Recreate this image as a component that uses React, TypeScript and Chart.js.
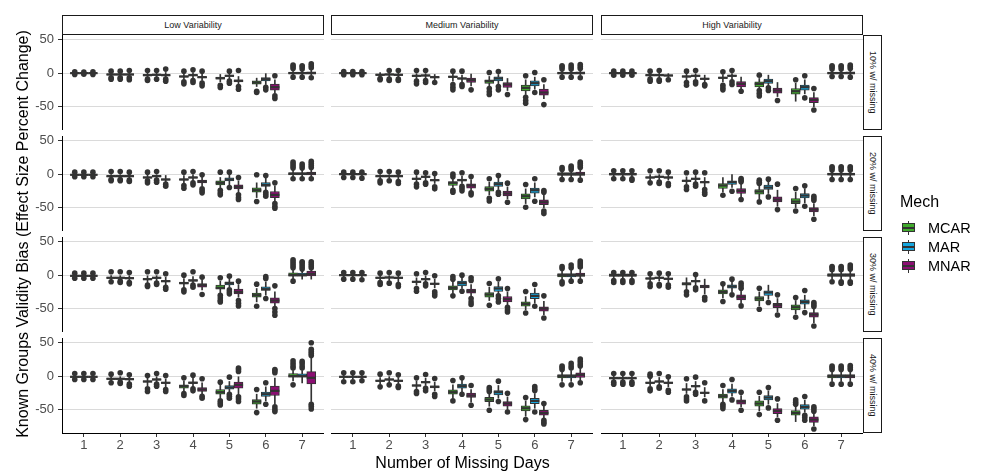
import React, { useEffect, useRef } from 'react';
import { Chart, registerables } from 'chart.js';

Chart.register(...registerables);

// Each box: [whiskerLow, q1, median, q3, whiskerHigh, ...outliers]
type Box = number[];

const DAYS = [1, 2, 3, 4, 5, 6, 7];
const MECHS = ['MCAR', 'MAR', 'MNAR'];
const MECH_COLORS = ['#41AB2D', '#16A6DE', '#8B0E72'];
const VARIABILITY = ['Low Variability', 'Medium Variability', 'High Variability'];
const MISSING = ['10% w/ missing', '20% w/ missing', '30% w/ missing', '40% w/ missing'];
const Y_TICKS = [-50, 0, 50];
const Y_MIN = -85;
const Y_MAX = 57;
const X_TITLE = 'Number of Missing Days';
const Y_TITLE = 'Known Groups Validity Bias (Effect Size Percent Change)';
const LEGEND_TITLE = 'Mech';

// ---- 10% missing ----
const LOW10_MCAR: Box[] = [
  [-1.5, -0.5, 0, 0.5, 1.5, 2, -2], [-5, -3, -2, -1, 1, 3, -7, -9], [-6, -4, -3, -2, 1, 4, -9, -11],
  [-9, -6, -5, -4, -1, 3, -13, -16], [-13, -9, -7.5, -6, -2, -18, -21.5], [-20, -16.5, -14, -11.5, -7.5, -27, -29],
  [-3, -1, 0, 1.5, 4, 7, 10, 12, -6],
];
const LOW10_MAR: Box[] = [
  [-1, -0.5, 0, 0.5, 1, 1.5, -1.5], [-5, -3, -2, -1, 1, 3, -7, -9], [-6, -3.5, -2.5, -1.5, 1, 4, -9],
  [-7, -4, -3, -2, 1, 5, -11, -14], [-9, -5, -4, -3, 1, 3, -12, -15], [-17, -11.5, -9, -6.5, 0, -21, -25],
  [-3, -1, 0, 1.5, 4, 6, 9, 11, -6],
];
const LOW10_MNAR: Box[] = [
  [-1.5, -0.5, 0, 0.5, 1.5, 2, -2], [-5, -3, -2, -1, 1, 4, -7, -10], [-7, -4, -3, -2, 1, 6, -9, -12],
  [-11, -7, -6, -5, -1, 3, -15, -19], [-17, -13, -11.5, -10, -5, 4, -20, -24], [-30, -25.5, -21, -16.5, -10, -4, -34, -38],
  [-3, -1, 0, 2, 5, 8, 11, 14, -7],
];
const MED10_MCAR: Box[] = [
  [-1.5, -0.5, 0, 0.5, 1.5, 2.5, -2.5], [-5, -3.5, -2.5, -1.5, 1, -8, -10], [-9, -5, -4, -3, 0, 4, -12, -16],
  [-12, -6.5, -5.5, -4.5, -1, 3, -17, -21, -25], [-20, -15.5, -12, -10, -5, 1, -23, -28, -32], [-32, -26.5, -22, -18, -10, -4, -36, -41, -45],
  [-3, -1, 0, 1.5, 4, 6, 9, 11, -6],
];
const MED10_MAR: Box[] = [
  [-1.5, -0.5, 0, 0.5, 1.5, 2.5, -2.5], [-6, -3, -2, -1, 2, 4, -9, -11], [-8, -4.5, -3.5, -2.5, 0, 4, -11, -14],
  [-13, -9, -8, -7, -3, 3, -17, -20], [-16, -11.5, -8, -5.5, -2, 2.5, -20, -25], [-24, -19, -15, -11.5, -6, 1, -29],
  [-3, -1, 0, 1.5, 4, 6, 9, 12, -6],
];
const MED10_MNAR: Box[] = [
  [-1.5, -0.5, 0, 0.5, 1.5, 2.5, -2.5], [-6, -3.5, -2.5, -1.5, 2, 4, -9, -11], [-11, -7, -6, -5, -2, -14],
  [-19, -14, -10.5, -7.5, -1.5, -25], [-26, -21.5, -17, -14, -8, -32], [-38, -33, -29, -24, -17, -10, -47],
  [-3, -1, 0, 2, 5, 7, 10, 13, -7],
];
const HIGH10_MCAR: Box[] = [
  [-2, -1, 0, 1, 2, 3, -3], [-7, -4, -3, -2, 1, 3, -9, -12], [-10, -6, -5, -4, -1, 3, -14, -18],
  [-13, -8, -7, -6, -2, 2, -18, -22, -25], [-23, -20.5, -16, -13, -8, -3, -26, -30, -34], [-42, -31.5, -27, -23, -15, -10],
  [-3, -1, 0, 1.5, 4, 6, 9, 11, -5],
];
const HIGH10_MAR: Box[] = [
  [-2, -1, 0, 1, 2, 3, -3], [-7, -4, -3, -2, 1, 4, -10, -12], [-9, -5, -4, -3, 0, 4, -13, -16],
  [-10, -5, -4, -3, 0, 4, -13, -17], [-19, -15.5, -12, -9, -3, -22, -26], [-31, -25.5, -21, -18, -10, -4, -37],
  [-3, -1, 0, 1.5, 4, 6, 9, 11, -5],
];
const HIGH10_MNAR: Box[] = [
  [-2, -1, 0, 1, 2, 3, -3], [-7, -4.5, -3.5, -2.5, 0, -10], [-13, -9.5, -8.5, -7.5, -3, -17, -19],
  [-24, -20.5, -16, -12.5, -6, -27], [-35, -30, -26, -22.5, -14, -41], [-50, -44, -40, -36.5, -29, -23, -55],
  [-3, -1, 0, 2, 4, 7, 10, 12, -6],
];

// ---- 20% missing ----
const LOW20_MCAR: Box[] = [
  [-2.5, -1.5, -1, -0.5, 1, 3, -4], [-6, -4, -3, -2, 0, 4, -8, -10], [-9, -6, -5, -4, -1, 3, -10, -13],
  [-13, -9, -8, -7, -2, 3, -17, -21], [-22, -16, -13, -10, -5, 3, -24, -28, -31], [-35, -27, -24, -20.5, -13, -1, -41],
  [-5, -1, 0.5, 2.5, 6, 9, 12, 15, 18, -7],
];
const LOW20_MAR: Box[] = [
  [-2.5, -1.5, -1, -0.5, 1, 3, -4], [-6, -4, -3, -2, 0, 4, -8, -10], [-7, -4, -3, -2, 0, 4, -9, -12],
  [-11, -6, -5, -4, 0, 4, -13, -16], [-16, -10, -8, -5.5, -1, 3, -20], [-24, -18.5, -16, -12.5, -6, -2, -27, -30, -33],
  [-5, -1, 0.5, 2.5, 6, 9, 12, 15, -7],
];
const LOW20_MNAR: Box[] = [
  [-2.5, -1.5, -1, -0.5, 1, 3, -4], [-7, -4, -3, -2, 0, 3, -9, -11], [-12, -9, -8, -7, -2, -15, -18],
  [-18, -13, -11, -9, -4, -1, -22, -25, -28], [-28, -22, -19, -16, -10, -5, -31, -35, -38], [-41, -35, -31, -26, -18, -13, -44, -48, -51],
  [-5, -1, 1, 3, 7, 10, 13, 16, 19, -7],
];
const MED20_MCAR: Box[] = [
  [-3, -1, 0, 1, 2, 3, -5], [-7, -4, -3, -2, 0, 4, -10, -13], [-12, -8, -7, -6, -2, 3, -15, -19],
  [-20, -17, -13, -11, -7, 0, -4, -24, -27], [-31, -25.5, -22, -18.5, -12, -7, -36, -40], [-44, -37, -33, -29.5, -22, -15.5, -49.5],
  [-5, -2, 0, 2.5, 5, 7, 10, -8],
];
const MED20_MAR: Box[] = [
  [-3, -1, 0, 1, 2, 3, -5], [-6, -4, -3, -2, 0, 4, -10], [-9, -5, -4, -3, 0, 2, -13, -15],
  [-14, -10, -9, -7.5, -3, 2, -18, -21, -25], [-23, -18.5, -15, -12, -6, -2, -27, -30], [-34, -28.5, -24, -21, -13, -7, -40.5],
  [-5, -2, 0, 2.5, 5, 7, 10, 12, -8],
];
const MED20_MNAR: Box[] = [
  [-4, -1, 0, 1, 2, 3, -6], [-8, -4, -3, -2, 0, 3, -11, -14], [-14, -10, -9, -8, -3, 1, -19, -22],
  [-25, -21, -17, -14.5, -8, -3.5, -28, -31], [-37, -32.5, -29, -25.5, -19, -13.5, -42], [-50, -45.5, -42, -38.5, -31, -24.5, -27, -55, -59],
  [-6, -2, 0, 3, 7, 10, 13, 16, 18, -9],
];
const HIGH20_MCAR: Box[] = [
  [-4, -1.5, 0, 1.5, 3, 5, -7], [-9, -6, -5, -4, 0, 5, -13], [-15, -11, -10, -9, -4, 2, -19, -23],
  [-27, -21.5, -17, -14, -5, -31.5], [-37, -30, -26, -23, -16, -9, -12, -14, -41.5], [-50, -44, -41, -36.5, -27, -21.5, -55],
  [-5, -1.5, 0, 1.5, 4, 6, 9, 11, -8],
];
const HIGH20_MAR: Box[] = [
  [-4, -1.5, 0, 1.5, 3, 5, -7], [-8, -5, -4, -3, 0, 5, -12, -14], [-12, -8, -7, -6, -2, 3, -15, -18],
  [-20, -15.5, -12, -10, 0, -25.5], [-29, -23, -20, -16.5, -10, -7.5, -34], [-43, -35.5, -32, -29, -22, -17.5, -48],
  [-5, -1.5, 0, 1.5, 4, 6, 9, 11, -8],
];
const HIGH20_MNAR: Box[] = [
  [-4, -1.5, 0, 1.5, 3, 5, -7, -9], [-9, -6, -5, -4, -1, 3, -14, -17], [-19, -13, -12, -11, -5, 2, -23, -27, -30],
  [-34, -29, -25, -21.5, -14, -6.5, -9, -11.5, -38], [-48, -41.5, -38, -34, -24, -15, -53], [-62, -56.5, -53, -50, -44, -33, -36, -39, -67.5],
  [-5, -1.5, 0, 1.5, 4, 6, 9, 11, -8],
];

// ---- 30% missing ----
const LOW30_MCAR: Box[] = [
  [-3, -2, -1, 0, 1.5, 3, -4.5], [-8, -5, -4, -3, 0, 5, -10], [-12, -7, -6, -5, -1, 5, -15, -17],
  [-19, -13, -12, -10.5, -5, 0, -22, -25], [-27, -21, -19, -15, -9, -4, -30, -34, -38, -40], [-40, -33, -30, -27, -20, -13.5, -46.5],
  [-7, -1.5, 0, 3.5, 8, 11, 14, 17, 20, 23, -9],
];
const LOW30_MAR: Box[] = [
  [-3, -2, -1, 0, 1.5, 3, -4.5], [-8, -5, -4, -3, 0, 5, -9, -11], [-9, -5, -4, -3, 0, 5, -12, -14],
  [-13, -9, -8, -6.5, -2, 5, -15, -18], [-18, -14.5, -12, -10, -5, -1.5, -22, -25, -28], [-30, -23, -21, -17.5, -10, -2, -5, -35],
  [-6, -1.5, 0, 3, 7, 9, 12, 15, 18, 20],
];
const LOW30_MNAR: Box[] = [
  [-3, -2, -1, 0, 1.5, 3, -4.5], [-9, -5.5, -4.5, -3.5, 0, 4, -11, -13], [-15, -10, -9, -8, -3, 2, -18, -21],
  [-22, -18, -15, -12.5, -7, -3, -29], [-33, -28, -25, -21, -14, -9, -38, -42, -46], [-48, -42, -38, -34, -25, -16, -50, -55, -60],
  [-6, -1, 2, 6, 9, 11, 14, 17, 20],
];
const MED30_MCAR: Box[] = [
  [-3, -1, 0, 1, 2, 4, -6], [-9, -5, -4, -3, 0, 3, -11, -14], [-15, -11, -10, -9, -4, 2, -20, -24],
  [-27, -22, -19, -16, -10, -2, -6, -31], [-38, -33, -29, -26, -18, -12.5, -45], [-52, -46.5, -43, -40, -32, -24.5, -56.5],
  [-7, -2.5, 0, 2.5, 7, 10, 13, -10, -13],
];
const MED30_MAR: Box[] = [
  [-3, -1, 0, 1, 2, 4, -6], [-8, -4.5, -3.5, -2.5, 0, 4, -12], [-11, -7, -6, -5, -1, 4, -13, -16],
  [-20, -16, -12, -9, -4, 0, -24], [-29, -24.5, -20, -17, -10, -5.5, -31, -35, -40], [-42, -35, -31, -27, -20, -14, -46.5],
  [-6, -2.5, 0, 2.5, 7, 11, 15, -9],
];
const MED30_MNAR: Box[] = [
  [-3, -1, 0, 1, 2, 4, -7], [-10, -5, -4, -3, 0, 3, -14, -17], [-19, -14, -13, -12, -6, -1, -25, -28, -31],
  [-32, -27, -24, -21, -14, -4, -8, -35, -40, -44], [-45, -40, -36, -32, -25, -20, -48, -52, -55], [-59, -54, -50, -47.5, -39, -31, -64],
  [-6, -2, 0, 3, 8, 12, 15, 18, 21, -9],
];
const HIGH30_MCAR: Box[] = [
  [-5, -2, 0, 2, 3, 4, -8, -11], [-10, -6, -5, -4, 0, 2, -13, -17], [-21, -15, -13, -11, -4, -25, -29.5],
  [-34, -28, -25, -22, -16, -13, -39.5], [-46, -38.5, -35, -32, -25, -19.5, -51], [-58, -52, -48, -44.5, -38, -33.5, -63],
  [-6, -2, 0, 2.5, 5, 8, 11, 13, -10],
];
const HIGH30_MAR: Box[] = [
  [-5, -2, 0, 2, 3, 4, -8, -11], [-9, -5, -4, -3, 0, 3, -14, -16], [-16, -10, -9, -8, -1, 1, -19, -22],
  [-25, -19.5, -17, -14.5, -9, -6, -29.5], [-36, -30.5, -26, -23.5, -15, -41], [-50, -43.5, -40, -37, -30, -23, -56],
  [-6, -2, 0, 2.5, 5, 8, 11, 13, -10, -12],
];
const HIGH30_MNAR: Box[] = [
  [-5, -2, 0, 2, 3, 4, -8, -11], [-11, -6.5, -5.5, -4.5, -1, 2, -15, -18], [-28, -19, -17, -15, -6, -33, -37],
  [-42, -37, -33, -29.5, -24, -12, -16, -19.5, -46], [-55, -48.5, -45, -42, -35, -29.5, -59.5], [-71, -63, -59, -56, -50, -41, -44, -47, -76],
  [-6, -2, 0, 2.5, 6, 9, 12, 15, -10, -12],
];

// ---- 40% missing ----
const LOW40_MCAR: Box[] = [
  [-3, -2, -1, 0, 2, 4, -5], [-8, -5, -4, -3, 0, 3, -10], [-15, -9, -8, -7, -3, 1, -19, -23],
  [-22, -18, -15, -13, -7, -2.5, -26, -29], [-33, -27, -24, -20, -13, -9, -37, -40, -43], [-48, -42, -38, -35, -27, -20, -54.5],
  [-7, -1.5, 0, 4, 8, 12, 15, 19, 23, -13],
];
const LOW40_MAR: Box[] = [
  [-3, -2, -1, 0, 2, 4, -5], [-7, -5, -4, -3, 0, 5, -9, -11], [-10, -6, -5, -4, 0, 4, -12, -15],
  [-16, -11, -10, -8.5, -3, 1.5, -19, -22], [-24, -19.5, -17, -14, -8, -1.5, -27, -30, -33], [-37, -30.5, -27, -24, -16, -10, -42],
  [-10, -1.5, 0, 3.5, 8, 12, 15, 19, 22],
];
const LOW40_MNAR: Box[] = [
  [-3, -2, -1, 0, 2, 4, -5], [-10, -5.5, -4.5, -3.5, 0, 2, -12, -15], [-16, -11, -10, -9, -4, 1, -20, -23],
  [-27, -23, -20, -17, -10, -4, -30, -33], [-28, -18, -13, -9, -1, 7, 10, 12, -31, -34, -38], [-42, -29, -22, -15, -3, 5, 8, 10, -46, -50, -53],
  [-38, -11.6, -2.5, 6.7, 28, 31, 34, 37, 40, 50, -42, -45, -49],
];
const MED40_MCAR: Box[] = [
  [-4, -2, -1, 0, 2, 5, -8.5], [-12, -8, -7, -6, -2, 3, -16], [-20, -15, -14, -13, -7, -2.5, -23, -26],
  [-33, -27, -24, -20.5, -13, -6.5, -37], [-45, -38, -35, -31.5, -25, -17, -20, -23, -51], [-60, -52, -48, -44.5, -37, -32, -65],
  [-8, -2.5, 0, 2.5, 7, 10, 13, 15, -13],
];
const MED40_MAR: Box[] = [
  [-4, -2, -1, 0, 2, 5, -8.5], [-10, -6, -5, -4, 0, 5, -13], [-14, -10, -9, -8, -3, 2.5, -18, -22],
  [-24, -18, -15, -12, -6, -2.5, -27], [-33, -28, -24, -21.5, -14, -7.5, -38], [-48, -41, -37, -33, -26, -15.5, -19, -21.5, -53.5],
  [-8, -2.5, 0, 2.5, 8, 12, 15, 19, -13],
];
const MED40_MNAR: Box[] = [
  [-4, -2, -1, 0, 2, 5, -7], [-12, -8, -7, -6, -2, 2, -15, -17], [-22, -17.5, -16, -14.5, -9, -3.5, -27, -30.5],
  [-39, -32, -29, -25.5, -20, -14, -43.5], [-50, -45, -41, -38, -31, -25.5, -53.5], [-63, -58.5, -55, -51, -45, -41, -66, -69, -71.5],
  [-7, -2, 2, 5, 11, 15, 18, 22, 25.5, -10],
];
const HIGH40_MCAR: Box[] = [
  [-6, -4, -3, -2, 1, 4, -9, -12], [-15, -11, -10, -9, -4, 0, 3, -19, -22], [-26, -21, -20, -19, -11, -4, -31, -34, -37],
  [-38, -33, -30, -27, -20, -14, -42, -45, -48.5], [-52, -45, -41, -37, -30, -24, -57.5], [-68, -58.5, -55, -51.5, -46, -35.5, -39, -42],
  [-8, -2.5, 0, 2.5, 7, 10, 13, 15, -12],
];
const HIGH40_MAR: Box[] = [
  [-6, -4, -3, -2, 1, 4, -9, -12], [-13, -9, -8, -7, -2, 4, -16, -18], [-21, -16, -15, -14, -8, -1.5, -24, -27],
  [-30, -25.5, -22, -19, -12, -5, -35.5], [-42, -35.5, -32, -29, -22, -17, -47.5], [-54, -49.5, -46, -42.5, -36, -30.5, -58.5, -62, -66],
  [-8, -2.5, 0, 2.5, 7, 10, 13, 15, -12],
];
const HIGH40_MNAR: Box[] = [
  [-6, -4, -3, -2, 1, 4, -9, -12], [-16, -11, -10, -9, -4, -1, -21, -24], [-31, -26, -25, -24, -17, -10, -37],
  [-46, -42, -38, -35.5, -29, -24, -51], [-61, -56, -52, -48.5, -41, -34, -66], [-74, -69, -65, -61, -55, -46, -49, -52.5, -79],
  [-8, -2.5, 0, 2.5, 7, 10, 13, 16, -12],
];

// rows = missing %, cols = variability, then mechanisms
const PANELS: Box[][][][] = [
  [[LOW10_MCAR, LOW10_MAR, LOW10_MNAR], [MED10_MCAR, MED10_MAR, MED10_MNAR], [HIGH10_MCAR, HIGH10_MAR, HIGH10_MNAR]],
  [[LOW20_MCAR, LOW20_MAR, LOW20_MNAR], [MED20_MCAR, MED20_MAR, MED20_MNAR], [HIGH20_MCAR, HIGH20_MAR, HIGH20_MNAR]],
  [[LOW30_MCAR, LOW30_MAR, LOW30_MNAR], [MED30_MCAR, MED30_MAR, MED30_MNAR], [HIGH30_MCAR, HIGH30_MAR, HIGH30_MNAR]],
  [[LOW40_MCAR, LOW40_MAR, LOW40_MNAR], [MED40_MCAR, MED40_MAR, MED40_MNAR], [HIGH40_MCAR, HIGH40_MAR, HIGH40_MNAR]],
];

// ---- layout ----
const FONT = "'Liberation Sans', Arial, Helvetica, sans-serif";
const COL_LEFT = [62, 331, 601];
const ROW_TOP = [35, 136, 237, 338];
const PW = 262;
const PH = 95;
const YW = 42;
const XH = 30;
const TOP_PAD = 7;
const DODGE = 0.25;
const INK = '#333333';

function makeConfig(r: number, c: number): any {
  const isLeft = c === 0;
  const isBottom = r === PANELS.length - 1;
  const datasets: any[] = [];
  PANELS[r][c].forEach((boxes, m) => {
    const off = (m - 1) * DODGE;
    const xs = DAYS.map((d) => d + off);
    datasets.push({
      type: 'bar', label: MECHS[m] + ' whisker', order: 4, grouped: false, barThickness: 1,
      backgroundColor: INK, borderWidth: 0,
      data: boxes.map((b, i) => ({ x: xs[i], y: [b[0], b[4]] })),
    });
    datasets.push({
      type: 'bar', label: MECHS[m], order: 3, grouped: false, barThickness: 9,
      backgroundColor: MECH_COLORS[m], borderColor: INK, borderWidth: 1, borderSkipped: false,
      data: boxes.map((b, i) => ({ x: xs[i], y: [b[1], b[3]] })),
    });
    datasets.push({
      type: 'scatter', label: MECHS[m] + ' median', order: 2,
      pointStyle: 'line', pointRadius: 4.6, pointBorderColor: INK, pointBorderWidth: 2.2,
      pointBackgroundColor: INK,
      data: boxes.map((b, i) => ({ x: xs[i], y: b[2] })),
    });
    datasets.push({
      type: 'scatter', label: MECHS[m] + ' outliers', order: 1,
      pointStyle: 'circle', pointRadius: 2.8, pointBackgroundColor: INK, pointBorderWidth: 0,
      data: boxes.flatMap((b, i) => b.slice(5).map((v) => ({ x: xs[i], y: v }))),
    });
  });
  const zeroPad = (s: any) => { s.paddingLeft = 0; s.paddingRight = 0; s.paddingTop = 0; s.paddingBottom = 0; };
  return {
    type: 'scatter',
    data: { datasets },
    options: {
      animation: false,
      responsive: false,
      maintainAspectRatio: false,
      events: [],
      layout: { padding: { top: isLeft ? TOP_PAD : 0, left: 0, right: 0, bottom: 0 }, autoPadding: false },
      plugins: { legend: { display: false }, tooltip: { enabled: false }, title: { display: false } },
      scales: {
        x: {
          type: 'linear', min: 0.4, max: 7.6, offset: false,
          afterBuildTicks: (s: any) => { s.ticks = DAYS.map((v) => ({ value: v })); },
          afterFit: (s: any) => { s.height = isBottom ? XH : 0; zeroPad(s); },
          grid: { display: isBottom, drawOnChartArea: false, drawTicks: true, tickLength: 4, tickColor: INK, tickWidth: 1, offset: false },
          border: { display: isBottom, color: '#000000', width: 1 },
          ticks: {
            display: isBottom, color: '#4D4D4D', padding: 1, maxRotation: 0, minRotation: 0, autoSkip: false,
            font: { family: FONT, size: 13 }, callback: (v: any) => String(v),
          },
        },
        y: {
          type: 'linear', min: Y_MIN, max: Y_MAX,
          afterBuildTicks: (s: any) => { s.ticks = Y_TICKS.map((v) => ({ value: v })); },
          afterFit: (s: any) => { s.width = isLeft ? YW : 0; zeroPad(s); },
          grid: { color: '#DADADA', lineWidth: 1, drawTicks: isLeft, tickLength: 4, tickColor: INK, tickWidth: 1 },
          border: { display: isLeft, color: '#000000', width: 1 },
          ticks: {
            display: isLeft, color: '#4D4D4D', padding: 4,
            font: { family: FONT, size: 13 }, callback: (v: any) => String(v),
          },
        },
      },
    },
  };
}

function Panel({ r, c }: { r: number; c: number }) {
  const ref = useRef<HTMLCanvasElement>(null);
  const isLeft = c === 0;
  const w = PW + (isLeft ? YW : 0);
  const h = PH + (r === PANELS.length - 1 ? XH : 0) + (isLeft ? TOP_PAD : 0);
  const left = COL_LEFT[c] - (isLeft ? YW : 0);
  const top = ROW_TOP[r] - (isLeft ? TOP_PAD : 0);
  useEffect(() => {
    const chart = new Chart(ref.current as HTMLCanvasElement, makeConfig(r, c));
    return () => chart.destroy();
  }, [r, c]);
  return (
    <canvas ref={ref} width={w} height={h}
      style={{ position: 'absolute', left, top, width: w, height: h }} />
  );
}

export default function App() {
  const legendCenters = MECHS.map((_, i) => 227.8 + 19 * i);
  return (
    <div style={{ position: 'absolute', left: 0, top: 0, width: 984, height: 474, background: '#ffffff', fontFamily: FONT, overflow: 'hidden' }}>
      {PANELS.map((row, r) => row.map((_, c) => <Panel key={`${r}-${c}`} r={r} c={c} />))}
      {VARIABILITY.map((t, c) => (
        <div key={t} style={{
          position: 'absolute', left: COL_LEFT[c], top: 15, width: PW, height: 20, boxSizing: 'border-box',
          border: '1px solid #1A1A1A', background: '#fff', color: '#1A1A1A', fontSize: 9,
          display: 'flex', alignItems: 'center', justifyContent: 'center',
        }}>{t}</div>
      ))}
      {MISSING.map((t, r) => (
        <div key={t} style={{
          position: 'absolute', left: COL_LEFT[2] + PW, top: ROW_TOP[r], width: 19, height: PH, boxSizing: 'border-box',
          border: '1px solid #1A1A1A', background: '#fff', color: '#1A1A1A', fontSize: 9,
          display: 'flex', alignItems: 'center', justifyContent: 'center', writingMode: 'vertical-rl',
        }}>{t}</div>
      ))}
      <div style={{
        position: 'absolute', left: 22.8 - 250, top: 224, width: 500, height: 20, lineHeight: '20px',
        fontSize: 16, color: '#000', textAlign: 'center', transform: 'rotate(-90deg)', whiteSpace: 'nowrap',
      }}>{Y_TITLE}</div>
      <div style={{
        position: 'absolute', left: 462.5 - 250, top: 453, width: 500, height: 20, lineHeight: '20px',
        fontSize: 16, color: '#000', textAlign: 'center', whiteSpace: 'nowrap',
      }}>{X_TITLE}</div>
      <div style={{ position: 'absolute', left: 900, top: 192, height: 20, lineHeight: '20px', fontSize: 16, color: '#000' }}>{LEGEND_TITLE}</div>
      {MECHS.map((m, i) => {
        const cy = legendCenters[i];
        return (
          <React.Fragment key={m}>
            <div style={{ position: 'absolute', left: 900, top: cy - 8.6, width: 17.3, height: 17.3 }}>
              <div style={{ position: 'absolute', left: 8.1, top: 1.7, width: 1, height: 13.9, background: INK }} />
              <div style={{ position: 'absolute', left: 2.2, top: 4.3, width: 13, height: 8.7, boxSizing: 'border-box', border: `1px solid ${INK}`, background: MECH_COLORS[i] }} />
              <div style={{ position: 'absolute', left: 2.2, top: 7.6, width: 13, height: 2, background: INK }} />
            </div>
            <div style={{ position: 'absolute', left: 928, top: cy - 10, height: 20, lineHeight: '20px', fontSize: 14.5, color: '#000' }}>{m}</div>
          </React.Fragment>
        );
      })}
    </div>
  );
}
